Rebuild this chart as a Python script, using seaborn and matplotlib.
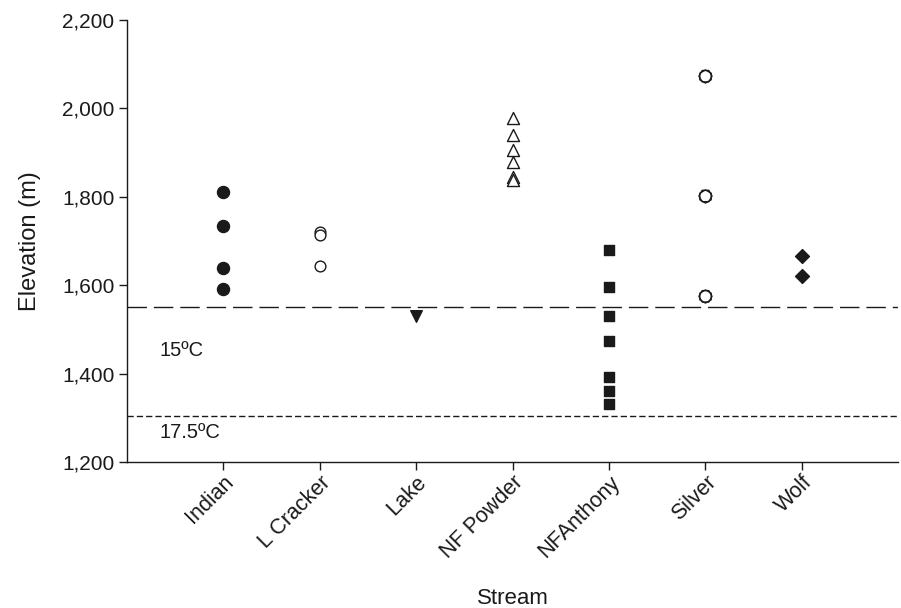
import numpy as np
import pandas as pd
import matplotlib
matplotlib.use("Agg")
import matplotlib.pyplot as plt
import seaborn as sns

streams = ["Indian", "L Cracker", "Lake", "NF Powder", "NFAnthony", "Silver", "Wolf"]
indian = [1811, 1734, 1639, 1591]
l_cracker = [1720, 1713, 1644]
lake = [1530]
nf_powder = [1978, 1940, 1907, 1879, 1846, 1838]
nf_anthony = [1680, 1596, 1530, 1474, 1392, 1361, 1331]
silver = [2073, 1802, 1575]
wolf = [1666, 1622]

line_15 = 1550
line_175 = 1305
ytick_vals = [1200, 1400, 1600, 1800, 2000, 2200]

values = [indian, l_cracker, lake, nf_powder, nf_anthony, silver, wolf]
df = pd.DataFrame({
    "Stream": [s for s, v in zip(streams, values) for _ in v],
    "Elevation": [e for v in values for e in v],
})
df["pos"] = df["Stream"].map({s: i for i, s in enumerate(streams)})

# marker, filled?, size
styles = {
    "Indian": ("o", True, 75),
    "L Cracker": ("o", False, 60),
    "Lake": ("v", True, 70),
    "NF Powder": ("^", False, 75),
    "NFAnthony": ("s", True, 50),
    "Silver": ("h", False, 90),
    "Wolf": ("D", True, 50),
}

sns.set_style("ticks")
plt.rcParams["font.family"] = ["Liberation Sans", "DejaVu Sans"]

ink = "#1a1a1a"
fig = plt.figure(figsize=(9.01, 6.08), dpi=100)
ax = fig.add_axes([0.141, 0.240, 0.856, 0.727])

for s in streams:
    m, filled, size = styles[s]
    sub = df[df["Stream"] == s]
    sns.scatterplot(data=sub, x="pos", y="Elevation", marker=m, s=size,
                    facecolor=ink if filled else "white", edgecolor=ink,
                    linewidth=1.0, ax=ax, zorder=3)
    if s == "Silver":
        # overlapping hexagons give the notched look
        sns.scatterplot(data=sub, x="pos", y="Elevation", marker="H", s=size,
                        facecolor="none", edgecolor=ink, linewidth=1.0,
                        ax=ax, zorder=4)

ax.axhline(line_15, color=ink, lw=1.0, dashes=(14, 5))
ax.axhline(line_175, color=ink, lw=1.0, dashes=(4.5, 2.2))
ax.text(-0.66, 1453, "15\u00baC", fontsize=14.5, va="center", ha="left", color=ink)
ax.text(-0.66, 1266, "17.5\u00baC", fontsize=14.5, va="center", ha="left", color=ink)

ax.set_xlim(-1, len(streams))
ax.set_ylim(1200, 2200)
ax.set_xticks(range(len(streams)))
ax.set_xticklabels(streams, rotation=45, ha="right", rotation_mode="anchor",
                   fontsize=15.5, color=ink)
ax.set_yticks(ytick_vals)
ax.set_yticklabels([f"{v:,}" for v in ytick_vals], fontsize=15, color=ink)
ax.tick_params(axis="both", direction="out", length=6, width=1, color=ink)
ax.tick_params(axis="x", pad=1)
ax.tick_params(axis="y", pad=3)
ax.set_xlabel("Stream", fontsize=16, color=ink, labelpad=18)
ax.set_ylabel("Elevation (m)", fontsize=17, color=ink, labelpad=15)
for sp in ["top", "right"]:
    ax.spines[sp].set_visible(False)
for sp in ["left", "bottom"]:
    ax.spines[sp].set_color(ink)
    ax.spines[sp].set_linewidth(1)

fig.savefig("out.png", dpi=100)
